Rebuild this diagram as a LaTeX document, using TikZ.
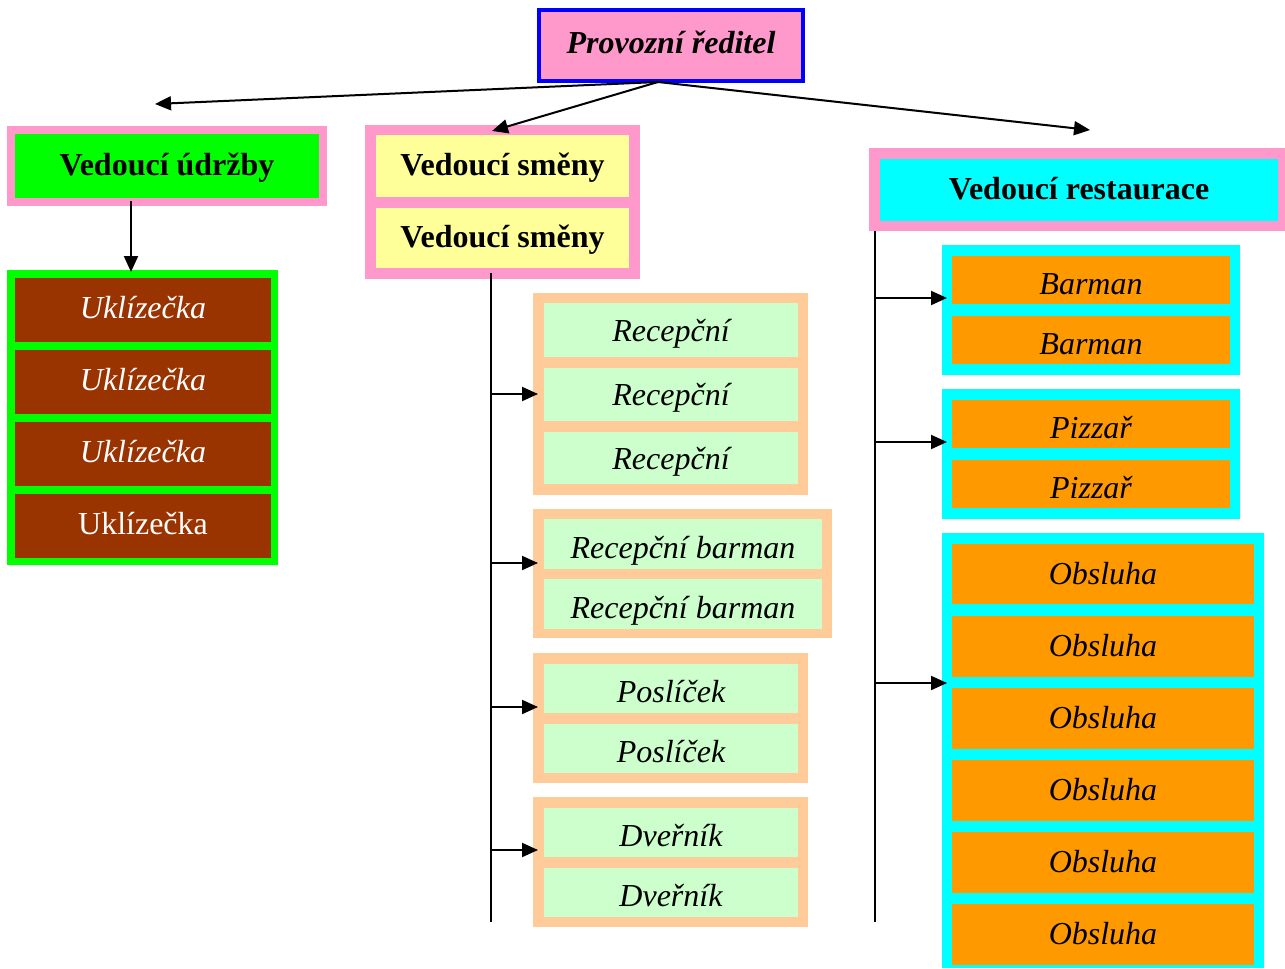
\documentclass[tikz,border=0pt]{standalone}
\usepackage{fontspec}
\setmainfont{Liberation Serif}
\usetikzlibrary{arrows.meta}
\definecolor{cpink}{HTML}{FF99CC}
\definecolor{cblue}{HTML}{0000FF}
\definecolor{cgreen}{HTML}{00FF00}
\definecolor{cbrown}{HTML}{993300}
\definecolor{cyellow}{HTML}{FFFF99}
\definecolor{cpeach}{HTML}{FFCC99}
\definecolor{clgreen}{HTML}{CCFFCC}
\definecolor{ccyan}{HTML}{00FFFF}
\definecolor{corange}{HTML}{FF9900}
\newcommand\mkcell[7]{%
  \pgfmathsetmacro\mkW{(#4-#2)*0.5}%
  \pgfmathsetmacro\mkH{(#5-#3)*0.5}%
  \node[#6, minimum width=\mkW pt, minimum height=\mkH pt] (#1) at ({(#2+#4)/2},{(#3+#5)/2}) {#7};}
\tikzset{
  box/.style={inner sep=0pt, outer sep=0pt, font=\fontsize{16}{19}\selectfont, text height=11pt, text depth=3pt},
  grp/.style={box},
  arr/.style={line width=1pt, -{Triangle[length=8pt,width=7pt]}},
  trunk/.style={line width=1pt},
  ukl/.style={box, fill=cbrown, text=white},
  rec/.style={box, fill=clgreen, font=\fontsize{16}{19}\selectfont\itshape},
  ora/.style={box, fill=corange, font=\fontsize{16}{19}\selectfont\itshape},
  low/.style={text height=17pt},
  mid/.style={text height=14pt},
  sl/.style={text height=13pt},
  head/.style={box, font=\fontsize{16}{19}\selectfont\bfseries}
}
\begin{document}
\begin{tikzpicture}[x=0.5pt,y=-0.5pt]
\useasboundingbox[fill=white] (0,0) rectangle (1285,969);
% top
\mkcell{top}{539}{10}{803}{81}{box, fill=cpink, draw=cblue, line width=2pt, font=\fontsize{16}{19}\selectfont\bfseries\itshape}{Provozní ředitel}
% Vedoucí údržby
\mkcell{udrg}{7}{126}{327}{206}{grp, fill=cpink}{}
\mkcell{udr}{15}{134}{319}{198}{head, fill=cgreen, text height=12pt}{Vedoucí údržby}
% Uklízečka
\mkcell{uklg}{7}{270}{278}{565}{grp, fill=cgreen}{}
\mkcell{ukl1}{15}{278}{271}{342}{ukl, font=\fontsize{16}{19}\selectfont\itshape}{Uklízečka}
\mkcell{ukl2}{15}{350}{271}{414}{ukl, font=\fontsize{16}{19}\selectfont\itshape}{Uklízečka}
\mkcell{ukl3}{15}{422}{271}{486}{ukl, font=\fontsize{16}{19}\selectfont\itshape}{Uklízečka}
\mkcell{ukl4}{15}{494}{271}{558}{ukl}{Uklízečka}
% Vedoucí směny
\mkcell{smg}{365}{125}{640}{279}{grp, fill=cpink}{}
\mkcell{sm1}{376}{135}{629}{197}{head, fill=cyellow, text height=12pt}{Vedoucí směny}
\mkcell{sm2}{376}{208}{629}{268}{head, fill=cyellow, text height=12pt}{Vedoucí směny}
% Recepční
\mkcell{recg}{533}{293}{808}{495}{grp, fill=cpeach}{}
\mkcell{rec1}{544}{303}{798}{357}{rec, mid}{Recepční}
\mkcell{rec2}{544}{368}{798}{421}{rec, mid}{Recepční}
\mkcell{rec3}{544}{432}{798}{484}{rec, mid}{Recepční}
% Recepční barman
\mkcell{rbg}{533}{509}{832}{638}{grp, fill=cpeach}{}
\mkcell{rb1}{544}{519}{822}{569}{rec, low}{Recepční barman}
\mkcell{rb2}{544}{579}{822}{629}{rec, low}{Recepční barman}
% Poslíček
\mkcell{posg}{533}{653}{808}{783}{grp, fill=cpeach}{}
\mkcell{pos1}{544}{664}{798}{713}{rec, low}{Poslíček}
\mkcell{pos2}{544}{724}{798}{773}{rec, low}{Poslíček}
% Dveřník
\mkcell{dvg}{533}{797}{808}{927}{grp, fill=cpeach}{}
\mkcell{dv1}{544}{808}{798}{857}{rec, low}{Dveřník}
\mkcell{dv2}{544}{868}{798}{917}{rec, low}{Dveřník}
% Vedoucí restaurace
\mkcell{resg}{869}{148}{1285}{231}{grp, fill=cpink}{}
\mkcell{res}{880}{159}{1278}{221}{head, fill=ccyan, text height=12pt}{Vedoucí restaurace}
% Barman
\mkcell{barg}{942}{245}{1240}{375}{grp, fill=ccyan}{}
\mkcell{bar1}{952}{256}{1230}{304}{ora, low}{Barman}
\mkcell{bar2}{952}{316}{1230}{364}{ora, low}{Barman}
% Pizzař
\mkcell{pizg}{942}{389}{1240}{519}{grp, fill=ccyan}{}
\mkcell{piz1}{952}{400}{1230}{448}{ora, low}{Pizzař}
\mkcell{piz2}{952}{460}{1230}{508}{ora, low}{Pizzař}
% Obsluha
\mkcell{obsg}{942}{533}{1264}{968}{grp, fill=ccyan}{}
\mkcell{obs1}{952}{544}{1254}{604}{ora, sl}{Obsluha}
\mkcell{obs2}{952}{616}{1254}{677}{ora, sl}{Obsluha}
\mkcell{obs3}{952}{688}{1254}{749}{ora, sl}{Obsluha}
\mkcell{obs4}{952}{760}{1254}{821}{ora, sl}{Obsluha}
\mkcell{obs5}{952}{832}{1254}{893}{ora, sl}{Obsluha}
\mkcell{obs6}{952}{904}{1254}{965}{ora, sl}{Obsluha}
% coordinates
\coordinate (J) at (658,82);
\coordinate (eL) at (155,104);
\coordinate (eM) at (492,131);
\coordinate (eR) at (1090,130);
\coordinate (u1) at (131,201);
\coordinate (u2) at (131,272);
\coordinate (t1a) at (491,273);
\coordinate (t1b) at (491,922);
\coordinate (t2a) at (875,231);
\coordinate (t2b) at (875,922);
\coordinate (b1) at (491,394);
\coordinate (b2) at (491,563);
\coordinate (b3) at (491,707);
\coordinate (b4) at (491,850);
\coordinate (c1) at (875,298);
\coordinate (c2) at (875,442);
\coordinate (c3) at (875,683);
% connectors
\draw[arr] (J) -- (eL);
\draw[arr] (J) -- (eM);
\draw[arr] (J) -- (eR);
\draw[arr] (u1) -- (u2);
\draw[trunk] (t1a) -- (t1b);
\draw[trunk] (t2a) -- (t2b);
\draw[arr] (b1) -- ([xshift=2.5pt]b1 -| recg.west);
\draw[arr] (b2) -- ([xshift=2.5pt]b2 -| rbg.west);
\draw[arr] (b3) -- ([xshift=2.5pt]b3 -| posg.west);
\draw[arr] (b4) -- ([xshift=2.5pt]b4 -| dvg.west);
\draw[arr] (c1) -- ([xshift=2.5pt]c1 -| barg.west);
\draw[arr] (c2) -- ([xshift=2.5pt]c2 -| pizg.west);
\draw[arr] (c3) -- ([xshift=2.5pt]c3 -| obsg.west);
\end{tikzpicture}
\end{document}
